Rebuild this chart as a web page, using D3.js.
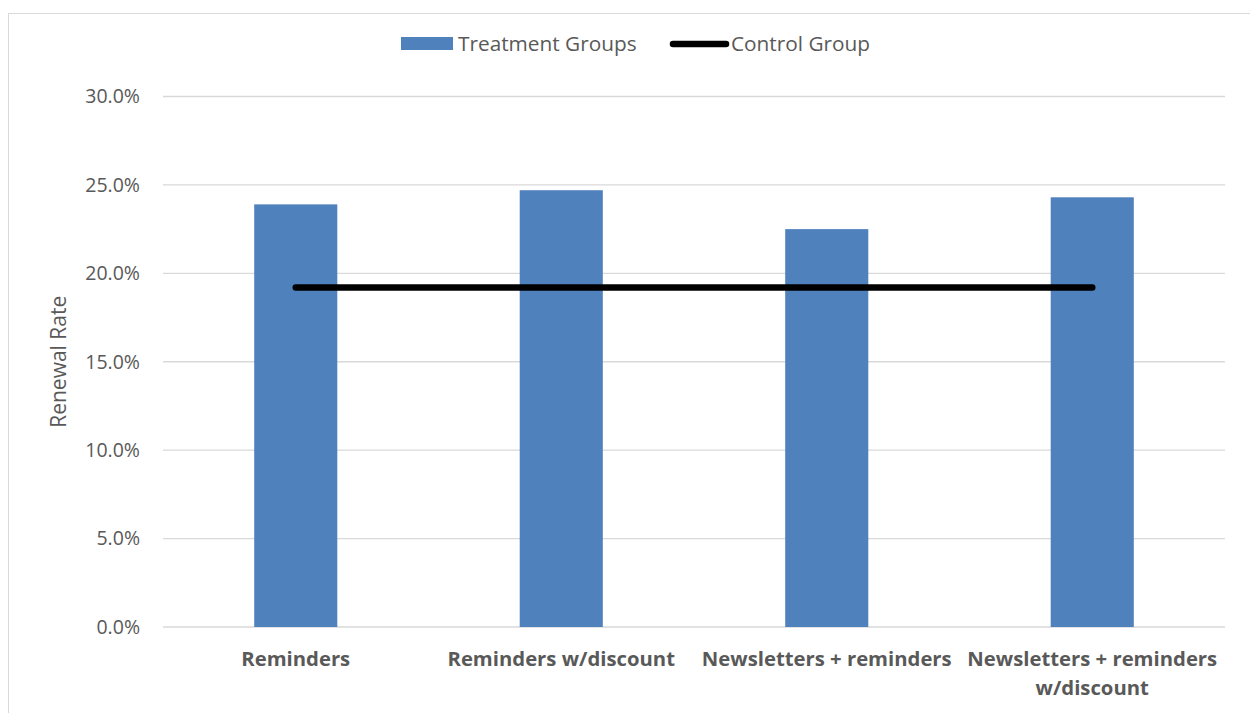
<!DOCTYPE html>
<html>
<head>
<meta charset="utf-8">
<script src="https://cdn.jsdelivr.net/npm/d3@7"></script>
<style>
  body { margin: 0; background: #fff; }
  text { font-family: "Open Sans", sans-serif; fill: #595959; }
</style>
</head>
<body>
<script>
const categories = ['Reminders', 'Reminders w/discount', 'Newsletters + reminders', 'Newsletters + reminders w/discount'];
const treatment = [23.9, 24.7, 22.5, 24.3];
const control = [19.2, 19.2, 19.2, 19.2];
const yTicks = [0, 5, 10, 15, 20, 25, 30];

const W = 1250, H = 713;

const svg = d3.select('body').append('svg')
  .attr('width', W)
  .attr('height', H);

// chart area border
svg.append('rect')
  .attr('x', 8.5).attr('y', 13.5)
  .attr('width', W).attr('height', H)
  .attr('fill', 'none')
  .attr('stroke', '#d9d9d9');

const x = d3.scaleBand().domain(categories).range([163, 1225]);
const y = d3.scaleLinear().domain([0, 30]).range([627, 96.5]);

// gridlines
svg.append('g').selectAll('line')
  .data(yTicks)
  .enter().append('line')
  .attr('x1', 163).attr('x2', 1225)
  .attr('y1', d => y(d)).attr('y2', d => y(d))
  .attr('stroke', '#d9d9d9')
  .attr('stroke-width', 1.3);

// tick labels
svg.append('g').selectAll('text')
  .data(yTicks)
  .enter().append('text')
  .attr('x', 140)
  .attr('y', d => y(d))
  .attr('dy', '0.35em')
  .attr('text-anchor', 'end')
  .attr('font-size', 19.5)
  .text(d => d.toFixed(1) + '%');

// bars
const barW = x.bandwidth() * 0.313;
svg.append('g').selectAll('rect')
  .data(treatment)
  .enter().append('rect')
  .attr('x', (d, i) => x(categories[i]) + (x.bandwidth() - barW) / 2)
  .attr('y', d => y(d))
  .attr('width', barW)
  .attr('height', d => y(0) - y(d))
  .attr('fill', '#4f81bd');

// control line
const line = d3.line()
  .x((d, i) => x(categories[i]) + x.bandwidth() / 2)
  .y(d => y(d));

svg.append('path')
  .datum(control)
  .attr('d', line)
  .attr('fill', 'none')
  .attr('stroke', '#000')
  .attr('stroke-width', 6.5)
  .attr('stroke-linecap', 'round');

// category labels
const xl = svg.append('g').selectAll('text')
  .data(categories)
  .enter().append('text')
  .attr('x', d => x(d) + x.bandwidth() / 2)
  .attr('y', 666)
  .attr('text-anchor', 'middle')
  .attr('font-size', 20.3)
  .attr('font-weight', 'bold');

xl.each(function(d) {
  let lines = d === 'Newsletters + reminders w/discount'
    ? ['Newsletters + reminders', 'w/discount'] : [d];
  d3.select(this).selectAll('tspan')
    .data(lines)
    .enter().append('tspan')
    .attr('x', x(d) + x.bandwidth() / 2)
    .attr('dy', (t, i) => i === 0 ? 0 : 29)
    .text(t => t);
});

// y axis title
svg.append('text')
  .attr('transform', 'translate(66,' + y(15) + ') rotate(-90)')
  .attr('text-anchor', 'middle')
  .attr('font-size', 21)
  .text('Renewal Rate');

// legend
const legend = svg.append('g');
legend.append('rect')
  .attr('x', 401).attr('y', 37)
  .attr('width', 52).attr('height', 13)
  .attr('fill', '#4f81bd');
legend.append('text')
  .attr('x', 458).attr('y', 44)
  .attr('dy', '0.35em')
  .attr('font-size', 20.8)
  .text('Treatment Groups');
legend.append('line')
  .attr('x1', 673).attr('x2', 726)
  .attr('y1', 44).attr('y2', 44)
  .attr('stroke', '#000')
  .attr('stroke-width', 6.5)
  .attr('stroke-linecap', 'round');
legend.append('text')
  .attr('x', 731).attr('y', 44)
  .attr('dy', '0.35em')
  .attr('font-size', 20.8)
  .text('Control Group');
</script>
</body>
</html>
